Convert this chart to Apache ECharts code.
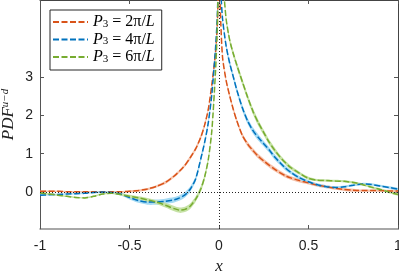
<!DOCTYPE html>
<html><head><meta charset="utf-8">
<script src="https://cdn.jsdelivr.net/npm/echarts@6/dist/echarts.min.js"></script>
<style>html,body{margin:0;padding:0;background:#fff}#c{width:399px;height:272px}</style>
</head><body><div id="c"></div>
<script>
const xs = [-1,-0.95,-0.9,-0.85,-0.8,-0.75,-0.7,-0.65,-0.6,-0.55,-0.5,-0.45,-0.4,-0.35,-0.3,-0.25,-0.22,-0.19,-0.16,-0.13,-0.1,-0.08,-0.06,-0.04,-0.02,-0.01,0,0.01,0.02,0.04,0.06,0.08,0.1,0.13,0.16,0.19,0.22,0.25,0.28,0.31,0.34,0.37,0.4,0.45,0.5,0.55,0.6,0.65,0.7,0.75,0.8,0.85,0.9,0.95,1];
const red = [0.02,0.02,0.02,0.01,0.01,0.01,0.01,0.01,0.01,0.01,0.02,0.04,0.08,0.15,0.25,0.42,0.55,0.7,0.9,1.13,1.45,1.75,2.15,2.8,3.6,4.3,5.6,4.4,3.5,2.9,2.5,2.15,1.85,1.48,1.25,1.08,0.93,0.81,0.7,0.6,0.51,0.43,0.37,0.3,0.24,0.18,0.14,0.1,0.07,0.05,0.04,0.04,0.04,0.03,0.03];
const blue = [-0.08,-0.07,-0.06,-0.05,-0.04,-0.03,-0.01,0.0,-0.01,-0.05,-0.14,-0.22,-0.26,-0.26,-0.24,-0.2,-0.15,-0.07,0.08,0.35,0.9,1.3,1.8,2.55,3.7,4.5,5.8,5.2,4.5,3.8,3.35,3.0,2.65,2.2,1.85,1.6,1.42,1.26,1.1,0.92,0.77,0.63,0.52,0.37,0.27,0.19,0.14,0.12,0.14,0.18,0.21,0.2,0.16,0.12,0.08];
const green = [-0.02,-0.05,-0.08,-0.11,-0.14,-0.15,-0.11,-0.05,-0.03,-0.06,-0.11,-0.15,-0.2,-0.26,-0.34,-0.43,-0.47,-0.45,-0.36,-0.18,0.1,0.4,0.84,1.6,3.1,4.2,6.0,6.2,5.6,4.5,3.95,3.6,3.3,2.88,2.47,2.1,1.8,1.55,1.3,1.1,0.92,0.77,0.64,0.49,0.36,0.31,0.3,0.29,0.28,0.25,0.2,0.13,0.07,0.0,-0.06];
const redErr = [0.02,0.02,0.02,0.02,0.02,0.02,0.02,0.02,0.02,0.02,0.03,0.03,0.03,0.03,0.04,0.04,0.04,0.04,0.05,0.05,0.06,0.06,0.06,0.06,0.06,0.06,0.06,0.06,0.06,0.06,0.06,0.06,0.06,0.06,0.06,0.06,0.06,0.06,0.06,0.06,0.05,0.05,0.05,0.05,0.04,0.04,0.04,0.04,0.04,0.04,0.03,0.03,0.03,0.03,0.03];
const blueErr = [0.02,0.02,0.02,0.02,0.02,0.02,0.02,0.03,0.03,0.04,0.05,0.06,0.07,0.07,0.07,0.07,0.07,0.07,0.07,0.07,0.08,0.08,0.08,0.08,0.08,0.08,0.08,0.08,0.08,0.08,0.08,0.08,0.08,0.08,0.08,0.08,0.08,0.07,0.07,0.07,0.06,0.06,0.05,0.05,0.04,0.04,0.04,0.03,0.03,0.03,0.03,0.03,0.03,0.03,0.03];
const greenErr = [0.02,0.02,0.02,0.02,0.02,0.02,0.02,0.02,0.02,0.03,0.04,0.04,0.05,0.05,0.06,0.07,0.07,0.07,0.07,0.07,0.08,0.08,0.08,0.08,0.08,0.08,0.08,0.08,0.08,0.08,0.08,0.08,0.08,0.08,0.08,0.08,0.08,0.07,0.07,0.07,0.06,0.05,0.05,0.04,0.04,0.03,0.03,0.03,0.03,0.03,0.03,0.03,0.03,0.03,0.03];
const legendNums = ['2','4','6'];
const xTicks = [-1,-0.5,0,0.5,1];
const yTicks = [0,1,2,3];

const names = legendNums.map(n => 'P3 = ' + n + 'π/L');
const colors = ['#D95319','#0072BD','#77AC30'];
const bandColors = ['#f6c4ad','#a6dbf4','#c6e2a6'];
const vals = [red, blue, green];
const errs = [redErr, blueErr, greenErr];
const serif = 'Liberation Serif';
const sans = 'Liberation Sans';

const series = [];
vals.forEach((v, k) => {
  const e = errs[k];
  const rows = xs.map((x,i)=>[x, v[i]-e[i], v[i]+e[i]]);
  series.push({
    type:'custom', name:'band'+k, silent:true, z:1,
    data: rows,
    encode:{x:0, y:[1,2]},
    renderItem: (params, api) => {
      if (params.dataIndex !== 0) return null;
      const upper = rows.map(r => api.coord([r[0], r[2]]));
      const lower = rows.map(r => api.coord([r[0], r[1]])).reverse();
      const cs = params.coordSys;
      return {
        type:'polygon',
        shape:{points: upper.concat(lower), smooth:0.25},
        style:{fill:bandColors[k], stroke:null},
        clipPath:{type:'rect', shape:{x:cs.x, y:cs.y, width:cs.width, height:cs.height}}
      };
    }
  });
});
vals.forEach((v, k) => {
  const s = {
    type:'line', name:names[k], symbol:'none', z:3, smooth:0.25,
    lineStyle:{color:colors[k], width:1.5, type:[6,2.5]},
    itemStyle:{color:colors[k]},
    data: xs.map((x,i)=>[x, v[i]])
  };
  if (k === 0) {
    s.markLine = {silent:true, symbol:'none', label:{show:false},
      lineStyle:{color:'#222', type:[1,2], width:1},
      data:[{yAxis:0},{xAxis:0}], z:4};
  }
  series.push(s);
});

const chart = echarts.init(document.getElementById('c'), null, {renderer:'canvas'});
chart.setOption({
  animation:false,
  grid:{left:40, right:1, top:0, bottom:43, containLabel:false, outerBoundsMode:'none'},
  legend:{
    data:names, orient:'vertical', left:50, top:10,
    itemWidth:35, itemHeight:12, itemGap:1.5,
    padding:[4,7,5,2], borderColor:'#262626', borderWidth:1, backgroundColor:'#fff',
    itemStyle:{opacity:0},
    formatter: name => {
      const n = name.split('= ')[1][0];
      return '{i|P}{sub|3}{n| = '+n+'π/}{i|L}';
    },
    textStyle:{rich:{
      i:{fontFamily:serif, fontStyle:'italic', fontSize:16, color:'#000', lineHeight:15},
      n:{fontFamily:serif, fontSize:16, color:'#000', lineHeight:15},
      sub:{fontFamily:serif, fontSize:11, color:'#000', verticalAlign:'bottom', lineHeight:10}
    }}
  },
  xAxis:[{
    type:'value', min:-1, max:1, interval:0.5,
    axisLine:{show:true, onZero:false, lineStyle:{color:'#8c8c8c', width:1.5}},
    axisTick:{show:true, inside:true, length:4, lineStyle:{color:'#555'}},
    axisLabel:{color:'#222', fontFamily:sans, fontSize:14, margin:10, formatter:v=>String(v)},
    splitLine:{show:false},
    name:'x', nameLocation:'middle', nameGap:29,
    nameTextStyle:{fontFamily:serif, fontStyle:'italic', fontSize:17, color:'#222'}
  },{
    type:'value', position:'top', min:-1, max:1, interval:0.5,
    axisLine:{show:true, onZero:false, lineStyle:{color:'#444'}},
    axisTick:{show:true, inside:true, length:4, lineStyle:{color:'#555'}},
    axisLabel:{show:false}, splitLine:{show:false}
  }],
  yAxis:[{
    type:'value', min:-0.96, max:5,
    axisLine:{show:true, onZero:false, lineStyle:{color:'#555'}},
    axisTick:{show:true, inside:true, length:4, customValues:yTicks, lineStyle:{color:'#555'}},
    axisLabel:{color:'#222', fontFamily:sans, fontSize:14, margin:7, customValues:yTicks},
    splitLine:{show:false},
    name:'{i|PDF}{s|u−d}', nameLocation:'middle', nameGap:23, nameMoveOverlap:false,
    nameTextStyle:{rich:{
      i:{fontFamily:serif, fontStyle:'italic', fontSize:17, color:'#222', lineHeight:17},
      s:{fontFamily:serif, fontStyle:'italic', fontSize:11, color:'#222', verticalAlign:'top', lineHeight:11}
    }}
  },{
    type:'value', position:'right', min:-0.96, max:5,
    axisLine:{show:true, onZero:false, lineStyle:{color:'#444'}},
    axisTick:{show:true, inside:true, length:4, customValues:yTicks, lineStyle:{color:'#555'}},
    axisLabel:{show:false}, splitLine:{show:false}
  }],
  series: series
});
</script></body></html>
